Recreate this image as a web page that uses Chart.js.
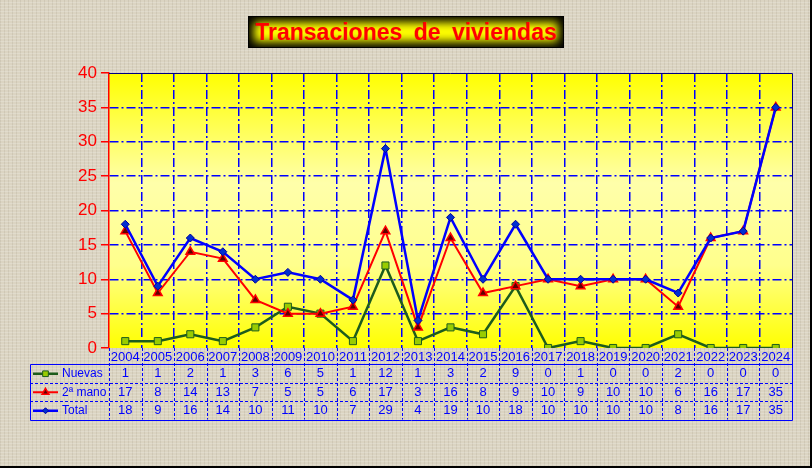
<!DOCTYPE html>
<html>
<head>
<meta charset="utf-8">
<script src="https://cdn.jsdelivr.net/npm/chart.js@4/dist/chart.umd.min.js"></script>
<style>
  html, body { margin: 0; padding: 0; }
  body {
    width: 812px; height: 468px; position: relative; overflow: hidden;
    background-color: #dbd4c2;
    background-image:
      repeating-linear-gradient(0deg, rgba(255,255,255,0.18) 0px, rgba(255,255,255,0.18) 1px, transparent 1px, transparent 3px),
      repeating-linear-gradient(90deg, rgba(120,110,90,0.12) 0px, rgba(120,110,90,0.12) 1px, transparent 1px, transparent 4px);
  }
  #frame {
    position: absolute; left: 0; top: 0; width: 810px; height: 466px;
    border-right: 2px solid #000; border-bottom: 2px solid #000;
  }
  #title {
    position: absolute; left: 248px; top: 16px; width: 316px; height: 32px;
    background: #ffff00;
    box-shadow: inset 0 0 10px 5px #000;
    border: 1px solid #000; box-sizing: border-box;
    color: #ff0000; font: bold 23px "Liberation Sans", Arial, sans-serif;
    text-align: center; line-height: 31px; word-spacing: 5px;
  }
  canvas { position: absolute; left: 0; top: 0; }
</style>
</head>
<body>
<div id="frame"></div>
<div id="title">Transaciones de viviendas</div>
<canvas id="chart" width="812" height="468"></canvas>
<script>
// Chart data
const years = ['2004', '2005', '2006', '2007', '2008', '2009', '2010', '2011', '2012', '2013', '2014',
  '2015', '2016', '2017', '2018', '2019', '2020', '2021', '2022', '2023', '2024'];
const nuevas = [1, 1, 2, 1, 3, 6, 5, 1, 12, 1, 3, 2, 9, 0, 1, 0, 0, 2, 0, 0, 0];
const segundaMano = [17, 8, 14, 13, 7, 5, 5, 6, 17, 3, 16, 8, 9, 10, 9, 10, 10, 6, 16, 17, 35];
const total = [18, 9, 16, 14, 10, 11, 10, 7, 29, 4, 19, 10, 18, 10, 10, 10, 10, 8, 16, 17, 35];
const yTicks = [0, 5, 10, 15, 20, 25, 30, 35, 40];

const BLUE = '#0000ff';
const NAVY = '#000080';
const FONT = '"Liberation Sans", Arial, sans-serif';
const DASH_DOT = [9, 3, 2, 3];

// Background gradient for the plot area
const plotBackground = {
  id: 'plotBackground',
  beforeDatasetsDraw(chart) {
    // nothing here, grid is drawn over the fill below
  },
  beforeDraw(chart) {
    const { ctx, chartArea: a } = chart;
    const g = ctx.createLinearGradient(0, a.top, 0, a.bottom);
    g.addColorStop(0, 'rgb(255,255,0)');
    g.addColorStop(0.4, 'rgb(255,255,170)');
    g.addColorStop(0.7, 'rgb(255,255,140)');
    g.addColorStop(1, 'rgb(255,255,0)');
    ctx.save();
    ctx.fillStyle = g;
    ctx.fillRect(a.left, a.top, a.right - a.left, a.bottom - a.top);
    ctx.restore();
  },
  afterDraw(chart) {
    const { ctx, chartArea: a } = chart;
    ctx.save();
    ctx.strokeStyle = NAVY;
    ctx.lineWidth = 1;
    ctx.beginPath();
    ctx.moveTo(a.left, a.top + 0.5);
    ctx.lineTo(a.right + 0.5, a.top + 0.5);
    ctx.lineTo(a.right + 0.5, a.bottom);
    ctx.stroke();
    ctx.restore();
  }
};

// Data table under the x axis
const dataTable = {
  id: 'dataTable',
  afterDraw(chart) {
    const { ctx, chartArea: a } = chart;
    const n = years.length;
    const w = (a.right - a.left) / n;
    const headTop = a.bottom;
    const rowTop = a.bottom + 16;
    const rowH = 18.5;
    const rows = chart.data.datasets.slice().sort((p, q) => p.row - q.row);
    const tableLeft = 30;
    const tableBottom = rowTop + rowH * rows.length;

    ctx.save();
    ctx.strokeStyle = BLUE;
    ctx.lineWidth = 1;

    // inner dashed lines
    ctx.setLineDash([3, 2]);
    for (let i = 0; i < n; i++) {
      const x = Math.round(a.left + i * w) + 0.5;
      ctx.beginPath();
      ctx.moveTo(x, headTop);
      ctx.lineTo(x, tableBottom);
      ctx.stroke();
    }
    for (let r = 1; r < rows.length; r++) {
      const y = Math.round(rowTop + r * rowH) + 0.5;
      ctx.beginPath();
      ctx.moveTo(tableLeft, y);
      ctx.lineTo(a.right, y);
      ctx.stroke();
    }

    // outer solid border
    ctx.setLineDash([]);
    ctx.beginPath();
    ctx.moveTo(tableLeft + 0.5, Math.round(rowTop) + 0.5);
    ctx.lineTo(a.right, Math.round(rowTop) + 0.5);
    ctx.moveTo(tableLeft + 0.5, Math.round(rowTop) + 0.5);
    ctx.lineTo(tableLeft + 0.5, Math.round(tableBottom) + 0.5);
    ctx.lineTo(a.right + 0.5, Math.round(tableBottom) + 0.5);
    ctx.lineTo(a.right + 0.5, headTop);
    ctx.stroke();

    // text
    ctx.fillStyle = BLUE;
    ctx.textBaseline = 'middle';
    rows.forEach((ds, r) => {
      const cy = rowTop + r * rowH + rowH / 2 + 0.5;
      ctx.textAlign = 'left';
      ctx.font = '12px ' + FONT;
      ctx.fillText(ds.label, 62, cy);
      ctx.textAlign = 'center';
      ctx.font = '13px ' + FONT;
      ds.data.forEach((v, i) => {
        ctx.fillText(String(v), chart.scales.x.getPixelForValue(i), cy);
      });
      // legend key
      ctx.save();
      ctx.strokeStyle = ds.borderColor;
      ctx.lineWidth = ds.borderWidth;
      ctx.beginPath();
      ctx.moveTo(33, cy);
      ctx.lineTo(58, cy);
      ctx.stroke();
      ctx.fillStyle = ds.pointBackgroundColor;
      ctx.strokeStyle = ds.pointBorderColor;
      ctx.lineWidth = ds.pointBorderWidth;
      Chart.helpers.drawPoint(ctx, {
        pointStyle: ds.pointStyle,
        radius: ds.pointRadius - 1,
        borderWidth: ds.pointBorderWidth,
        rotation: 0
      }, 45.5, cy);
      ctx.restore();
    });
    ctx.restore();
  }
};

new Chart(document.getElementById('chart'), {
  type: 'line',
  data: {
    labels: years,
    datasets: [
      {
        label: 'Nuevas',
        row: 0,
        order: 2,
        data: nuevas,
        borderColor: '#1d5c1d',
        borderWidth: 2.5,
        pointStyle: 'rect',
        pointRadius: 5,
        pointBackgroundColor: '#99cc00',
        pointBorderColor: '#1d5c1d',
        pointBorderWidth: 1
      },
      {
        label: '2ª mano',
        row: 1,
        order: 1,
        data: segundaMano,
        borderColor: '#ff0000',
        borderWidth: 2,
        pointStyle: 'triangle',
        pointRadius: 5,
        pointBackgroundColor: '#600000',
        pointBorderColor: '#ff0000',
        pointBorderWidth: 1.5
      },
      {
        label: 'Total',
        row: 2,
        order: 0,
        data: total,
        borderColor: '#0000ff',
        borderWidth: 2.5,
        pointStyle: 'rectRot',
        pointRadius: 4,
        pointBackgroundColor: '#0030d0',
        pointBorderColor: '#0000a0',
        pointBorderWidth: 1
      }
    ]
  },
  options: {
    responsive: false,
    animation: false,
    events: [],
    layout: { padding: { top: 73, right: 20, left: 0, bottom: 0 } },
    plugins: {
      legend: { display: false },
      tooltip: { enabled: false },
      title: { display: false }
    },
    elements: { line: { tension: 0 } },
    scales: {
      x: {
        offset: true,
        afterFit: (scale) => { scale.height = 120; },
        grid: {
          offset: true,
          drawTicks: false,
          lineWidth: 1.5,
          color: (c) => (c.index === 0 || c.index === undefined) ? 'rgba(0,0,0,0)' : BLUE
        },
        border: { display: false, dash: DASH_DOT },
        ticks: {
          color: BLUE,
          padding: 2,
          maxRotation: 0,
          autoSkip: false,
          font: { family: FONT, size: 13 }
        }
      },
      y: {
        min: 0,
        max: 40,
        afterFit: (scale) => { scale.width = 109; },
        afterBuildTicks: (scale) => { scale.ticks = yTicks.map(v => ({ value: v })); },
        grid: {
          drawTicks: true,
          tickLength: 8,
          tickColor: '#ff0000',
          lineWidth: 1.5,
          color: (c) => (c.tick && (c.tick.value === 0 || c.tick.value === 40)) ? 'rgba(0,0,0,0)' : BLUE
        },
        border: { display: true, color: '#ff0000', width: 1.5, dash: DASH_DOT },
        ticks: {
          color: '#ff0000',
          padding: 4,
          font: { family: FONT, size: 17 }
        }
      }
    }
  },
  plugins: [plotBackground, dataTable]
});
</script>
</body>
</html>
